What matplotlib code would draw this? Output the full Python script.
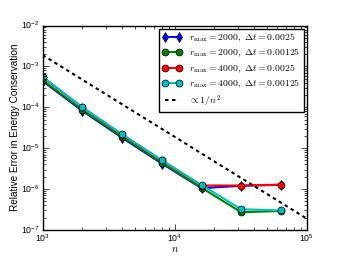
import numpy as np
import matplotlib
matplotlib.use("Agg")
import matplotlib.pyplot as plt

plt.style.use("classic")
plt.rcParams["mathtext.fontset"] = "cm"
plt.rcParams["font.family"] = ["Liberation Sans", "DejaVu Sans"]

n = [1000, 2000, 4000, 8000, 16000, 32000, 64000]

err_r2000_dt0025 = [4.4e-4, 8.2e-5, 1.8e-5, 4.2e-6, 1.05e-6, 1.2e-6, 1.27e-6]
err_r2000_dt00125 = [4.6e-4, 8.6e-5, 1.9e-5, 4.4e-6, 1.07e-6, 2.7e-7, 2.9e-7]
err_r4000_dt0025 = [5.5e-4, 1.0e-4, 2.15e-5, 5.0e-6, 1.22e-6, 1.22e-6, 1.28e-6]
err_r4000_dt00125 = [5.6e-4, 1.0e-4, 2.2e-5, 5.1e-6, 1.25e-6, 3.2e-7, 3.0e-7]

ref_n = [1e3, 1e5]
ref_const = 1900.0

fig = plt.figure(figsize=(3.41, 2.56), dpi=100)
ax = fig.add_axes([0.125, 0.102, 0.774, 0.798])

ax.loglog(n, err_r2000_dt0025, "b-d", ms=5, lw=1.5,
          label=r"$r_{\rm max}=2000,\ \Delta t=0.0025$")
ax.loglog(n, err_r2000_dt00125, "g-o", ms=5, lw=1.5,
          label=r"$r_{\rm max}=2000,\ \Delta t=0.00125$")
ax.loglog(n, err_r4000_dt0025, "r-o", ms=5, lw=1.5,
          label=r"$r_{\rm max}=4000,\ \Delta t=0.0025$")
ax.loglog(n, err_r4000_dt00125, "c-o", ms=5, lw=1.5,
          label=r"$r_{\rm max}=4000,\ \Delta t=0.00125$")
ax.loglog(ref_n, [ref_const / x**2 for x in ref_n], "k--", lw=1.5,
          dashes=(2.5, 2.5), label=r"$\propto 1/n^2$")

ax.set_xlim(1e3, 1e5)
ax.set_ylim(1e-7, 1e-2)
ax.set_xlabel(r"$n$", fontsize=7.5, labelpad=0)
ax.set_ylabel("Relative Error in Energy Conservation", fontsize=7.2, labelpad=1)
ax.tick_params(labelsize=6.3, pad=2)
ax.legend(loc="upper right", fontsize=7, borderaxespad=0.3, borderpad=0.3,
          labelspacing=0.3, handlelength=2.0, handletextpad=0.8)

fig.savefig("out.png", dpi=100)
